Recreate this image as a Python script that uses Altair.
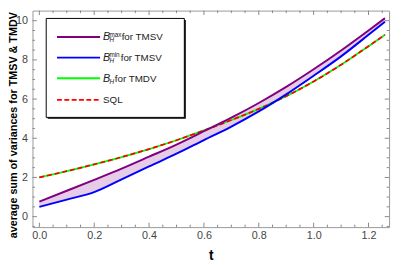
import altair as alt
import pandas as pd

# ---- data ----
t_vals   = [0.0, 0.1, 0.2, 0.3, 0.4, 0.5, 0.6, 0.7, 0.8, 0.9, 1.0, 1.1, 1.2, 1.26]
tmsv_max = [0.77, 1.32, 1.88, 2.45, 3.06, 3.68, 4.36, 5.05, 5.80, 6.62, 7.52, 8.48, 9.50, 10.13]
tmsv_min = [0.50, 0.87, 1.25, 1.90, 2.56, 3.21, 3.91, 4.60, 5.37, 6.24, 7.19, 8.18, 9.28, 9.95]
tmdv     = [2.00, 2.32, 2.67, 3.04, 3.45, 3.90, 4.40, 4.93, 5.50, 6.15, 6.90, 7.75, 8.70, 9.28]
sql      = [2.00, 2.32, 2.67, 3.04, 3.45, 3.90, 4.40, 4.93, 5.50, 6.15, 6.90, 7.75, 8.70, 9.28]

x_major = [0.0, 0.2, 0.4, 0.6, 0.8, 1.0, 1.2]
x_minor = [0.05, 0.1, 0.15, 0.25, 0.3, 0.35, 0.45, 0.5, 0.55, 0.65, 0.7, 0.75,
           0.85, 0.9, 0.95, 1.05, 1.1, 1.15, 1.25]
y_major = [0, 2, 4, 6, 8, 10]
y_minor = [-0.5, 0.5, 1, 1.5, 2.5, 3, 3.5, 4.5, 5, 5.5, 6.5, 7, 7.5, 8.5, 9, 9.5]

legend_names = ["for TMSV", "for TMSV", "for TMDV", "SQL"]
y_title = "average sum of variances for TMSV & TMDV"
x_title = "t"

FONT = "Liberation Sans"
W, H = 364, 221

df = pd.DataFrame({"t": t_vals, "tmax": tmsv_max, "tmin": tmsv_min,
                   "tmdv": tmdv, "sql": sql})

xscale = alt.Scale(domain=[-0.025, 1.275], nice=False, zero=False)
yscale = alt.Scale(domain=[-0.535, 10.515], nice=False, zero=False)
xaxis = alt.Axis(values=x_major, format=".1f", ticks=False, domain=False, grid=False,
                 labelFont=FONT, labelFontSize=11, labelColor="#444444", labelPadding=3,
                 title=x_title, titleFont=FONT, titleFontSize=14, titleFontWeight="bold",
                 titleColor="black", titleY=29, titleBaseline="middle")
yaxis = alt.Axis(values=y_major, format="d", ticks=False, domain=False, grid=False,
                 labelFont=FONT, labelFontSize=11, labelColor="#444444", labelPadding=5,
                 title=None)


def X(f):
    return alt.X(f, type="quantitative", scale=xscale, axis=xaxis)


def Y(f):
    return alt.Y(f, type="quantitative", scale=yscale, axis=yaxis)


base = alt.Chart(df)
area = base.mark_area(color="#800080", opacity=0.2, interpolate="monotone").encode(
    x=X("t"), y=Y("tmin"), y2="tmax")
green = base.mark_line(color="#00ff00", strokeWidth=1.8, interpolate="monotone", clip=True).encode(
    x=X("t"), y=Y("tmdv"))
red = base.mark_line(color="#ff0000", strokeWidth=1.8, strokeDash=[5, 3],
                     interpolate="monotone", clip=True).encode(x=X("t"), y=Y("sql"))
blue = base.mark_line(color="#0000ff", strokeWidth=2, interpolate="monotone", clip=True).encode(
    x=X("t"), y=Y("tmin"))
purple = base.mark_line(color="#800080", strokeWidth=2, interpolate="monotone", clip=True).encode(
    x=X("t"), y=Y("tmax"))

# frame ticks (inward, all four sides)
TC = "#888888"
xmaj = alt.Chart(pd.DataFrame({"t": x_major}))
xmin = alt.Chart(pd.DataFrame({"t": x_minor}))
ymaj = alt.Chart(pd.DataFrame({"v": y_major}))
ymin = alt.Chart(pd.DataFrame({"v": y_minor}))
ticks = [
    xmaj.mark_rule(color=TC).encode(x=X("t"), y=alt.value(H), y2=alt.value(H - 4.5)),
    xmaj.mark_rule(color=TC).encode(x=X("t"), y=alt.value(0), y2=alt.value(4.5)),
    xmin.mark_rule(color=TC).encode(x=X("t"), y=alt.value(H), y2=alt.value(H - 2.5)),
    xmin.mark_rule(color=TC).encode(x=X("t"), y=alt.value(0), y2=alt.value(2.5)),
    ymaj.mark_rule(color=TC).encode(y=Y("v"), x=alt.value(0), x2=alt.value(4.5)),
    ymaj.mark_rule(color=TC).encode(y=Y("v"), x=alt.value(W), x2=alt.value(W - 4.5)),
    ymin.mark_rule(color=TC).encode(y=Y("v"), x=alt.value(0), x2=alt.value(2.5)),
    ymin.mark_rule(color=TC).encode(y=Y("v"), x=alt.value(W), x2=alt.value(W - 2.5)),
]

one = alt.Chart(pd.DataFrame({"a": [0]}))

# y title as rotated text
ytitle = one.mark_text(font=FONT, fontSize=11, fontWeight="bold", color="black", angle=270,
                       align="center", baseline="middle").encode(
    x=alt.value(-19), y=alt.value(117), text=alt.value(y_title))

# ---- legend box ----
lx0, lx1, ly0, ly1 = 14, 155, 8, 109
shadow = one.mark_rect(color="#000000").encode(
    x=alt.value(lx0 + 1.5), x2=alt.value(lx1 + 1.5), y=alt.value(ly0 + 1.5), y2=alt.value(ly1 + 1.5))
box = one.mark_rect(fill="white", stroke="black", strokeWidth=1).encode(
    x=alt.value(lx0), x2=alt.value(lx1), y=alt.value(ly0), y2=alt.value(ly1))

rows = [27, 48, 69, 91]
legend_layers = [shadow, box]
sw_styles = [dict(color="#800080", strokeWidth=2), dict(color="#0000ff", strokeWidth=2),
             dict(color="#00ff00", strokeWidth=2), dict(color="#ff0000", strokeWidth=1.8, strokeDash=[5, 2.5])]
for r, st in zip(rows, sw_styles):
    legend_layers.append(one.mark_rule(**st).encode(
        x=alt.value(25), x2=alt.value(69), y=alt.value(r)))

tk = dict(font=FONT, color="#222222", align="left")
legend_layers += [
    # B_H^max for TMSV
    one.mark_text(fontSize=11, fontStyle="italic", baseline="middle", **tk).encode(
        x=alt.value(72), y=alt.value(rows[0] + 0.5), text=alt.value("B")),
    one.mark_text(fontSize=6.5, baseline="middle", **tk).encode(
        x=alt.value(78.5), y=alt.value(rows[0] - 2.5), text=alt.value("max")),
    one.mark_text(fontSize=6.5, fontStyle="italic", baseline="middle", **tk).encode(
        x=alt.value(78.5), y=alt.value(rows[0] + 3.5), text=alt.value("H")),
    one.mark_text(fontSize=10, baseline="middle", **tk).encode(
        x=alt.value(91), y=alt.value(rows[0] + 0.5), text=alt.value(legend_names[0])),
    # B_H^min for TMSV
    one.mark_text(fontSize=11, fontStyle="italic", baseline="middle", **tk).encode(
        x=alt.value(72), y=alt.value(rows[1] + 0.5), text=alt.value("B")),
    one.mark_text(fontSize=6.5, baseline="middle", **tk).encode(
        x=alt.value(78.5), y=alt.value(rows[1] - 2.5), text=alt.value("min")),
    one.mark_text(fontSize=6.5, fontStyle="italic", baseline="middle", **tk).encode(
        x=alt.value(78.5), y=alt.value(rows[1] + 3.5), text=alt.value("H")),
    one.mark_text(fontSize=10, baseline="middle", **tk).encode(
        x=alt.value(90), y=alt.value(rows[1] + 0.5), text=alt.value(legend_names[1])),
    # B_H for TMDV
    one.mark_text(fontSize=11, fontStyle="italic", baseline="middle", **tk).encode(
        x=alt.value(72), y=alt.value(rows[2] + 0.5), text=alt.value("B")),
    one.mark_text(fontSize=6.5, fontStyle="italic", baseline="middle", **tk).encode(
        x=alt.value(78.5), y=alt.value(rows[2] + 3.5), text=alt.value("H")),
    one.mark_text(fontSize=10, baseline="middle", **tk).encode(
        x=alt.value(84), y=alt.value(rows[2] + 0.5), text=alt.value(legend_names[2])),
    # SQL
    one.mark_text(fontSize=10, baseline="middle", **tk).encode(
        x=alt.value(72), y=alt.value(rows[3] + 0.5), text=alt.value(legend_names[3])),
]

chart = alt.layer(area, green, red, blue, purple, *ticks, ytitle, *legend_layers).properties(
    width=W, height=H,
    autosize=alt.AutoSizeParams(type="none"),
    padding={"left": 25, "top": 0, "right": 4, "bottom": 36},
).configure_view(stroke="#999999", strokeWidth=1)

chart.save("out.html", embed_options={"renderer": "svg", "actions": False})
